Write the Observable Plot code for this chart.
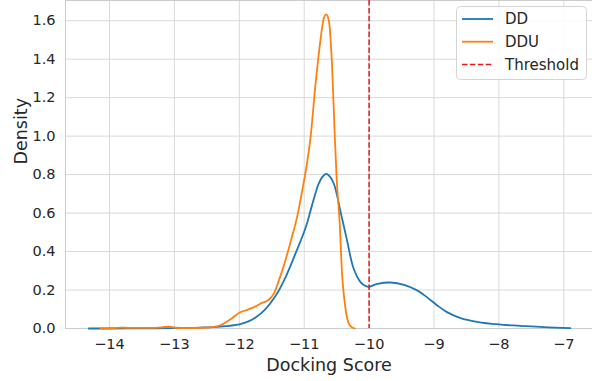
<!DOCTYPE html>
<html>
<head>
<meta charset="utf-8">
<script src="https://cdn.jsdelivr.net/npm/d3@7"></script>
<script src="https://cdn.jsdelivr.net/npm/@observablehq/plot@0.6"></script>
<style>
  html, body { margin: 0; padding: 0; background: #fff; overflow: hidden; }
  #wrap { position: relative; width: 592px; height: 381px; font-family: "DejaVu Sans", sans-serif; }
  #legend { position: absolute; left: 456px; top: 6px; }
</style>
</head>
<body>
<div id="wrap"></div>
<script>
// ---- data ----
const ddX = [-14.32, -14.0, -13.5, -13.0, -12.6, -12.3, -12.0, -11.85, -11.75, -11.6, -11.44, -11.29, -11.14, -10.98, -10.88, -10.78, -10.72, -10.66, -10.6, -10.54, -10.44, -10.34, -10.24, -10.13, -10.05, -10.0, -9.87, -9.67, -9.46, -9.26, -9.11, -8.95, -8.8, -8.59, -8.34, -8.0, -7.67, -7.31, -6.9];
const ddY = [0.0, 0.0, 0.001, 0.002, 0.005, 0.01, 0.022, 0.038, 0.057, 0.1, 0.17, 0.265, 0.385, 0.522, 0.64, 0.75, 0.788, 0.804, 0.788, 0.75, 0.607, 0.458, 0.313, 0.24, 0.22, 0.217, 0.232, 0.239, 0.227, 0.198, 0.163, 0.12, 0.085, 0.054, 0.035, 0.021, 0.014, 0.007, 0.002];

const dduX = [-14.14, -13.95, -13.82, -13.7, -13.4, -13.2, -13.09, -12.98, -12.8, -12.55, -12.39, -12.29, -12.13, -12.0, -11.88, -11.78, -11.67, -11.55, -11.47, -11.39, -11.29, -11.19, -11.11, -11.03, -10.95, -10.9, -10.83, -10.75, -10.7, -10.66, -10.62, -10.57, -10.53, -10.5, -10.45, -10.42, -10.38, -10.33, -10.28, -10.22];
const dduY = [0.0, 0.002, 0.005, 0.003, 0.003, 0.006, 0.01, 0.004, 0.002, 0.004, 0.009, 0.017, 0.049, 0.082, 0.097, 0.11, 0.13, 0.149, 0.18, 0.25, 0.354, 0.475, 0.579, 0.718, 0.874, 1.0, 1.255, 1.498, 1.61, 1.633, 1.6, 1.36, 1.01, 0.78, 0.527, 0.3, 0.146, 0.042, 0.01, 0.0];

const threshold = -10;
const seriesNames = ["DD", "DDU", "Threshold"];
const seriesColors = ["#1f77b4", "#ff7f0e", "#e31a1c"];
const xTicks = [-14, -13, -12, -11, -10, -9, -8, -7];
const yTicks = [0.0, 0.2, 0.4, 0.6, 0.8, 1.0, 1.2, 1.4, 1.6];
const xLabel = "Docking Score";
const yLabel = "Density";

// ---- build ----
const dd = ddX.map((x, i) => ({x, y: ddY[i]}));
const ddu = dduX.map((x, i) => ({x, y: dduY[i]}));
const textColor = "#262626";
const gridColor = "#d9d9d9";
const minus = d => (d < 0 ? "\u2212" + Math.abs(d) : String(d));

const chart = Plot.plot({
  width: 592,
  height: 381,
  marginLeft: 65,
  marginRight: 0,
  marginTop: 0,
  marginBottom: 53,
  style: {fontFamily: "DejaVu Sans, sans-serif", color: textColor, background: "#fff", overflow: "visible"},
  x: {domain: [-14.678, -6.558]},
  y: {domain: [0, 1.705]},
  marks: [
    Plot.gridX(xTicks, {stroke: gridColor, strokeOpacity: 1, strokeWidth: 1}),
    Plot.gridY(yTicks, {stroke: gridColor, strokeOpacity: 1, strokeWidth: 1}),
    Plot.frame({stroke: "#cccccc"}),
    Plot.axisX(xTicks, {tickSize: 0, tickPadding: 10, tickFormat: minus, fontSize: 14.5, label: null, fill: textColor}),
    Plot.axisY(yTicks, {tickSize: 0, tickPadding: 10, tickFormat: d => d.toFixed(1), fontSize: 14.5, label: null, fill: textColor}),
    Plot.line(dd, {x: "x", y: "y", stroke: seriesColors[0], strokeWidth: 1.8, curve: "catmull-rom"}),
    Plot.line(ddu, {x: "x", y: "y", stroke: seriesColors[1], strokeWidth: 1.8, curve: "monotone-x"}),
    Plot.ruleX([threshold], {stroke: seriesColors[2], strokeWidth: 1.5, strokeDasharray: "5.5,2.4"}),
    Plot.text([xLabel], {frameAnchor: "bottom", dy: 42, lineAnchor: "bottom", fontSize: 17.5, fill: textColor}),
    Plot.text([yLabel], {frameAnchor: "left", dx: -39, rotate: -90, lineAnchor: "bottom", fontSize: 17.5, fill: textColor})
  ]
});

const wrap = document.getElementById("wrap");
wrap.appendChild(chart);

// legend (inside plot area, upper right)
const ns = "http://www.w3.org/2000/svg";
const lg = document.createElementNS(ns, "svg");
lg.setAttribute("id", "legend");
lg.setAttribute("width", 132);
lg.setAttribute("height", 75);
const box = document.createElementNS(ns, "rect");
box.setAttribute("x", 0.5); box.setAttribute("y", 0.5);
box.setAttribute("width", 130); box.setAttribute("height", 73);
box.setAttribute("rx", 4);
box.setAttribute("fill", "rgba(255,255,255,0.85)");
box.setAttribute("stroke", "#d4d4d4");
lg.appendChild(box);
seriesNames.forEach((name, i) => {
  const cy = 13 + i * 22.7;
  const ln = document.createElementNS(ns, "line");
  ln.setAttribute("x1", 6); ln.setAttribute("x2", 37);
  ln.setAttribute("y1", cy); ln.setAttribute("y2", cy);
  ln.setAttribute("stroke", seriesColors[i]);
  ln.setAttribute("stroke-width", i === 2 ? 1.5 : 1.8);
  if (i === 2) ln.setAttribute("stroke-dasharray", "5.5,2.4");
  lg.appendChild(ln);
  const t = document.createElementNS(ns, "text");
  t.setAttribute("x", 49); t.setAttribute("y", cy);
  t.setAttribute("dy", "0.36em");
  t.setAttribute("font-size", 15);
  t.setAttribute("font-family", "DejaVu Sans, sans-serif");
  t.setAttribute("fill", textColor);
  t.textContent = name;
  lg.appendChild(t);
});
wrap.appendChild(lg);
</script>
</body>
</html>
